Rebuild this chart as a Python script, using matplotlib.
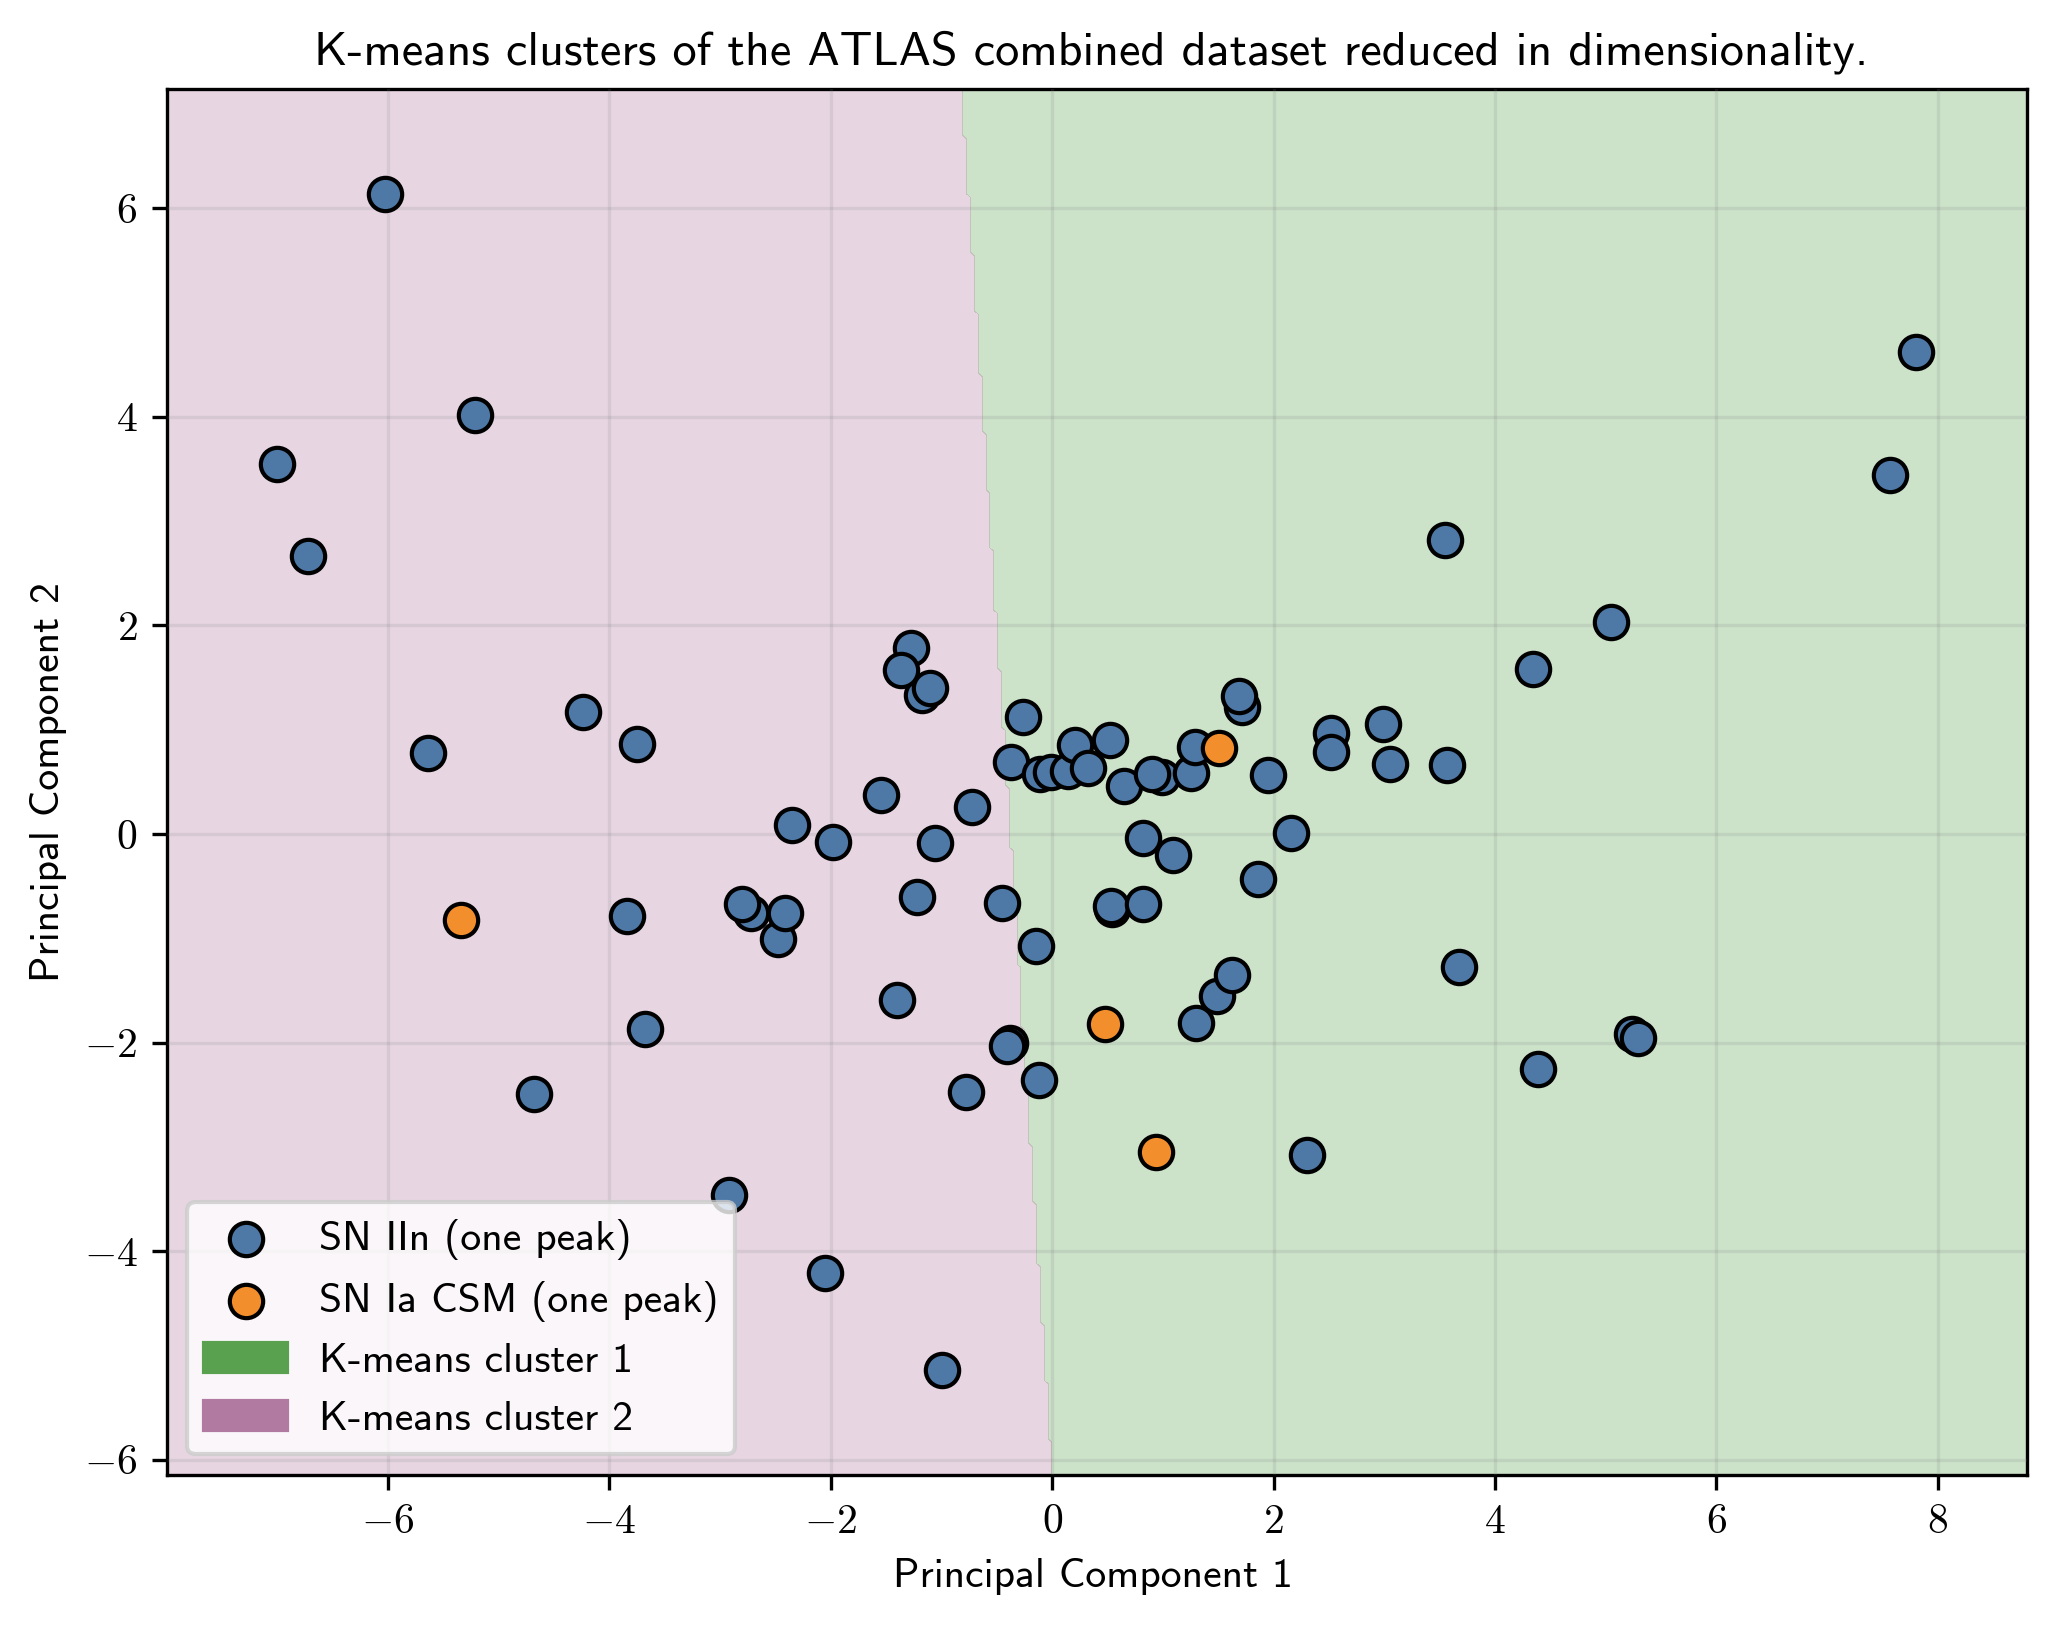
import numpy as np
import matplotlib
matplotlib.use("Agg")
import matplotlib.pyplot as plt
from matplotlib.colors import ListedColormap
from matplotlib.patches import Patch
from matplotlib.ticker import FuncFormatter

plt.rcParams["font.family"] = ["cmss10", "DejaVu Sans"]
plt.rcParams["mathtext.fontset"] = "cm"
plt.rcParams["axes.unicode_minus"] = False

# SN IIn (one peak)
iin_x = [-6.03, -5.216, -7.004, -6.72, -4.235, -3.748, -5.635, -1.28, -1.175, -1.364,
         -1.108, -0.26, -0.369, -0.114, -0.011, 0.144, 0.205, 0.523, 0.326, 0.647,
         0.992, 0.902, 1.258, 1.287, 1.717, 1.691, 1.949, 2.52, 2.52, 2.99,
         3.049, 3.57, 3.546, 4.34, 5.05, 7.572, 7.80, -1.548, -0.721, -2.35,
         -1.983, -1.063, 0.822, 1.092, 2.16, 1.859, -1.226, -0.45, 0.54, 0.527,
         0.822, 3.677, -0.143, -2.717, -2.8, -2.48, -2.41, -3.843, -1.403, -3.677,
         -4.683, -0.776, -0.124, -0.385, -0.409, 1.297, 1.486, 1.628, 2.303, 4.387,
         5.24, 5.29, -2.919, -2.054, -1.0]
iin_y = [6.14, 4.02, 3.55, 2.665, 1.167, 0.865, 0.777, 1.784, 1.336, 1.57,
         1.397, 1.119, 0.687, 0.575, 0.598, 0.607, 0.854, 0.899, 0.629, 0.457,
         0.55, 0.575, 0.582, 0.835, 1.221, 1.323, 0.567, 0.966, 0.783, 1.054,
         0.676, 0.663, 2.816, 1.583, 2.036, 3.446, 4.62, 0.374, 0.259, 0.084,
         -0.079, -0.086, -0.042, -0.201, 0.01, -0.431, -0.604, -0.665, -0.72, -0.694,
         -0.671, -1.275, -1.074, -0.759, -0.671, -1.011, -0.76, -0.784, -1.59, -1.87,
         -2.497, -2.47, -2.36, -2.005, -2.03, -1.807, -1.555, -1.351, -3.075, -2.25,
         -1.92, -1.96, -3.46, -4.21, -5.14]

# SN Ia CSM (one peak)
csm_x = [-5.345, 0.48, 0.941, 1.507]
csm_y = [-0.822, -1.82, -3.05, 0.825]

# k-means centres, the background is coloured by the nearest one
center_x = [2.6, -3.42]
center_y = [0.7, 0.33]

BLUE = "#4e79a7"
ORANGE = "#f28e2b"
GREEN = "#59a14f"
PURPLE = "#b07aa1"

xlim = (-8.0, 8.81)
ylim = (-6.147, 7.143)

fig, ax = plt.subplots(figsize=(6.85, 5.4167), dpi=300)
fig.subplots_adjust(left=0.0811, right=0.9866, top=0.9452, bottom=0.0922)

# mesh of nearest centre, coarse on purpose so the edge is stepped
xx, yy = np.meshgrid(np.arange(xlim[0], xlim[1] + 0.035, 0.035),
                     np.arange(ylim[0], ylim[1] + 0.035, 0.035))
d0 = (xx - center_x[0]) ** 2 + (yy - center_y[0]) ** 2
d1 = (xx - center_x[1]) ** 2 + (yy - center_y[1]) ** 2
labels = (d1 < d0).astype(int)
ax.contourf(xx, yy, labels, levels=[-0.5, 0.5, 1.5],
            cmap=ListedColormap([GREEN, PURPLE]), alpha=0.3)

iin = ax.scatter(iin_x, iin_y, s=64, c=BLUE, edgecolors="black", linewidths=1.0,
                 zorder=3, label="SN IIn (one peak)")
csm = ax.scatter(csm_x, csm_y, s=64, c=ORANGE, edgecolors="black", linewidths=1.0,
                 zorder=3, label="SN Ia CSM (one peak)")

ax.set_xlim(xlim)
ax.set_ylim(ylim)
ax.set_xticks([-6, -4, -2, 0, 2, 4, 6, 8])
ax.set_yticks([-6, -4, -2, 0, 2, 4, 6])
fmt = FuncFormatter(lambda v, pos: f"${v:g}$")
ax.xaxis.set_major_formatter(fmt)
ax.yaxis.set_major_formatter(fmt)
ax.tick_params(labelsize=10)
ax.grid(True, color="#808080", alpha=0.16, linewidth=0.8)
ax.set_axisbelow(False)

ax.set_xlabel("Principal Component 1", fontsize=10, x=0.498)
ax.set_ylabel("Principal Component 2", fontsize=10)
ax.set_title("K-means clusters of the ATLAS combined dataset reduced in dimensionality.",
             fontsize=11.6, x=0.497)

handles = [iin, csm, Patch(color=GREEN, label="K-means cluster 1"),
           Patch(color=PURPLE, label="K-means cluster 2")]
ax.legend(handles=handles, loc="lower left", fontsize=10, handletextpad=0.75).set_zorder(5)

fig.savefig("out.png", dpi=300)
